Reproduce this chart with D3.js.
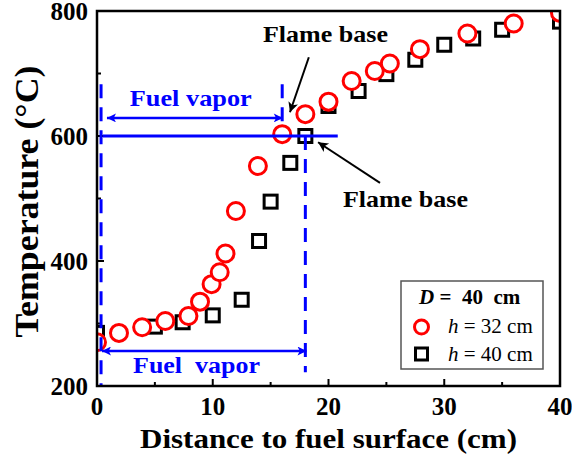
<!DOCTYPE html>
<html>
<head>
<meta charset="utf-8">
<script src="https://cdn.jsdelivr.net/npm/d3@7"></script>
<style>
  html, body { margin: 0; padding: 0; background: #fff; }
  svg { display: block; }
  text { font-family: "Liberation Serif", "Times New Roman", Times, serif; }
</style>
</head>
<body>
<svg id="chart" width="572" height="461" font-family="Liberation Serif, Times New Roman, serif"></svg>
<script>
// Temperature profiles above the fuel surface, D = 40 cm
const distH32 = [0, 1.9, 3.9, 5.9, 7.9, 8.9, 9.9, 10.6, 11.1, 12.0, 13.9, 16.0, 18.0, 20.0, 22.0, 24.0, 25.3, 27.9, 32.0, 36.0, 40.0];
const tempH32 = [270, 285, 294, 304, 312, 335, 363, 382, 412, 480, 552, 603, 635, 655, 688, 704, 716, 739, 764, 780, 797];
const distH40 = [0, 5.0, 7.4, 10.0, 12.5, 14.0, 15.0, 16.7, 18.0, 20.0, 22.6, 25.0, 27.5, 30.0, 32.5, 35.0, 40.0];
const tempH40 = [285, 295, 302, 313, 338, 432, 495, 557, 600, 648, 672, 699, 722, 746, 756, 770, 783];

const xTicks = [0, 10, 20, 30, 40];
const xMinor = [5, 15, 25, 35];
const yTicks = [200, 400, 600, 800];
const yMinor = [300, 500, 700];

// Fuel-vapour zones and flame-base markers (data units)
const vaporLeft = 0.35, flameBase32 = 16.0, flameBase40 = 18.0;
const flameTemp = 600;

const serif = "Liberation Serif, Times New Roman, serif";
const svg = d3.select("#chart");
const x = d3.scaleLinear().domain([0, 40]).range([97, 560]);
const y = d3.scaleLinear().domain([200, 800]).range([386, 11]);

const blue = "#0000ff";
const red = "#ff0000";

// arrow markers
const defs = svg.append("defs");
function marker(id, color, w, h) {
  defs.append("marker")
    .attr("id", id).attr("viewBox", "0 0 10 10")
    .attr("refX", 10).attr("refY", 5)
    .attr("markerUnits", "userSpaceOnUse")
    .attr("markerWidth", w).attr("markerHeight", h)
    .attr("orient", "auto-start-reverse")
    .append("path").attr("d", "M0,0 L10,5 L0,10 L2.5,5 Z").attr("fill", color);
}
marker("arrBlue", blue, 13, 9);
marker("arrBlack", "#000", 14, 10);

defs.append("clipPath").attr("id", "plotClip")
  .append("rect").attr("x", x(0)).attr("y", y(800))
  .attr("width", x(40) - x(0)).attr("height", y(200) - y(800));

// ticks (inward, bottom and left only)
const tk = svg.append("g").attr("stroke", "#000").attr("stroke-width", 2);
tk.selectAll(".xt").data(xTicks).join("line")
  .attr("x1", d => x(d)).attr("x2", d => x(d)).attr("y1", y(200)).attr("y2", y(200) - 7);
tk.selectAll(".xm").data(xMinor).join("line")
  .attr("x1", d => x(d)).attr("x2", d => x(d)).attr("y1", y(200)).attr("y2", y(200) - 4);
tk.selectAll(".yt").data(yTicks).join("line")
  .attr("x1", x(0)).attr("x2", x(0) + 7).attr("y1", d => y(d)).attr("y2", d => y(d));
tk.selectAll(".ym").data(yMinor).join("line")
  .attr("x1", x(0)).attr("x2", x(0) + 4).attr("y1", d => y(d)).attr("y2", d => y(d));

// data
const plot = svg.append("g").attr("clip-path", "url(#plotClip)");
const sq = 13;
plot.selectAll(".sq").data(distH40.map((d, i) => [d, tempH40[i]])).join("rect")
  .attr("x", d => x(d[0]) - sq / 2).attr("y", d => y(d[1]) - sq / 2)
  .attr("width", sq).attr("height", sq)
  .attr("fill", "#fff").attr("stroke", "#000").attr("stroke-width", 3);
plot.selectAll(".ci").data(distH32.map((d, i) => [d, tempH32[i]])).join("circle")
  .attr("cx", d => x(d[0])).attr("cy", d => y(d[1])).attr("r", 8.5)
  .attr("fill", "#fff").attr("stroke", red).attr("stroke-width", 3);

// annotations
const ann = svg.append("g");
const dash = "14,9";
ann.append("line").attr("x1", x(vaporLeft)).attr("x2", x(vaporLeft))
  .attr("y1", y(683)).attr("y2", y(201))
  .attr("stroke", blue).attr("stroke-width", 3).attr("stroke-dasharray", dash);
ann.append("line").attr("x1", x(flameBase32)).attr("x2", x(flameBase32))
  .attr("y1", y(683)).attr("y2", y(616))
  .attr("stroke", blue).attr("stroke-width", 3).attr("stroke-dasharray", dash);
ann.append("line").attr("x1", x(flameBase40)).attr("x2", x(flameBase40))
  .attr("y1", y(flameTemp)).attr("y2", y(222))
  .attr("stroke", blue).attr("stroke-width", 3).attr("stroke-dasharray", dash);
ann.append("line").attr("x1", x(0.5)).attr("x2", x(20.8))
  .attr("y1", y(flameTemp)).attr("y2", y(flameTemp))
  .attr("stroke", blue).attr("stroke-width", 3);

// fuel vapour spans
ann.append("line").attr("x1", x(0.86)).attr("x2", x(flameBase32 + 0.05))
  .attr("y1", y(629)).attr("y2", y(629))
  .attr("stroke", blue).attr("stroke-width", 2.5)
  .attr("marker-start", "url(#arrBlue)").attr("marker-end", "url(#arrBlue)");
ann.append("line").attr("x1", x(0.43)).attr("x2", x(flameBase40 + 0.1))
  .attr("y1", y(256)).attr("y2", y(256))
  .attr("stroke", blue).attr("stroke-width", 2.5)
  .attr("marker-start", "url(#arrBlue)").attr("marker-end", "url(#arrBlue)");

// flame base pointers
ann.append("line").attr("x1", x(18.3)).attr("y1", y(726)).attr("x2", x(16.67)).attr("y2", y(638))
  .attr("stroke", "#000").attr("stroke-width", 2).attr("marker-end", "url(#arrBlack)");
ann.append("line").attr("x1", x(24.45)).attr("y1", y(525)).attr("x2", x(19.1)).attr("y2", y(590))
  .attr("stroke", "#000").attr("stroke-width", 2).attr("marker-end", "url(#arrBlack)");

function label(txt, cx, base, size, len, color) {
  return ann.append("text").attr("x", cx).attr("y", base)
    .attr("font-family", serif)
    .attr("text-anchor", "middle").attr("font-weight", "bold")
    .attr("font-size", size).attr("fill", color)
    .attr("textLength", len).attr("lengthAdjust", "spacingAndGlyphs")
    .text(txt);
}
label("Flame base", x(19.74), y(750), 23, 125, "#000");
label("Flame base", x(26.65), y(486), 23, 125, "#000");
label("Fuel vapor", x(8.1), y(648), 23, 122, blue);
label("Fuel\u00a0\u00a0vapor", x(8.6), y(221), 23, 127, blue);

// frame
svg.append("rect").attr("x", x(0)).attr("y", y(800))
  .attr("width", x(40) - x(0)).attr("height", y(200) - y(800))
  .attr("fill", "none").attr("stroke", "#000").attr("stroke-width", 2.5);

// tick labels
svg.append("g").selectAll("text").data(xTicks).join("text")
  .attr("x", d => x(d)).attr("y", y(200) + 29)
  .attr("font-family", serif)
  .attr("text-anchor", "middle").attr("font-weight", "bold").attr("font-size", 25)
  .text(d => d);
svg.append("g").selectAll("text").data(yTicks).join("text")
  .attr("x", x(0) - 9).attr("y", d => y(d)).attr("dy", "0.34em")
  .attr("font-family", serif)
  .attr("text-anchor", "end").attr("font-weight", "bold").attr("font-size", 25)
  .text(d => d);

// axis titles
svg.append("text").attr("x", 328.5).attr("y", 448)
  .attr("font-family", serif)
  .attr("text-anchor", "middle").attr("font-weight", "bold").attr("font-size", 27)
  .attr("textLength", 377).attr("lengthAdjust", "spacingAndGlyphs")
  .text("Distance to fuel surface (cm)");
svg.append("text").attr("transform", "translate(38,201.5) rotate(-90)")
  .attr("font-family", serif)
  .attr("text-anchor", "middle").attr("font-weight", "bold").attr("font-size", 34)
  .attr("textLength", 272).attr("lengthAdjust", "spacingAndGlyphs")
  .text("Temperature (\u00b0C)");

// legend
const lg = svg.append("g");
lg.append("rect").attr("x", 401).attr("y", 281).attr("width", 142).attr("height", 88)
  .attr("fill", "#fff").attr("stroke", "#555").attr("stroke-width", 1.5);
const t1 = lg.append("text").attr("x", 419).attr("y", 304)
  .attr("font-family", serif)
  .attr("font-size", 21).attr("font-weight", "bold");
t1.append("tspan").attr("font-style", "italic").text("D");
t1.append("tspan").text(" =\u00a0 40\u00a0 cm");
lg.append("circle").attr("cx", 421.5).attr("cy", 327).attr("r", 7)
  .attr("fill", "#fff").attr("stroke", red).attr("stroke-width", 3);
lg.append("rect").attr("x", 421.5 - 6).attr("y", 354 - 6).attr("width", 12).attr("height", 12)
  .attr("fill", "#fff").attr("stroke", "#000").attr("stroke-width", 3);
const legendRows = [["32 cm", 333], ["40 cm", 361]];
legendRows.forEach(([v, b]) => {
  const t = lg.append("text").attr("x", 448).attr("y", b)
    .attr("font-family", serif).attr("font-size", 21);
  t.append("tspan").attr("font-style", "italic").text("h");
  t.append("tspan").text(" = " + v);
});
</script>
</body>
</html>
